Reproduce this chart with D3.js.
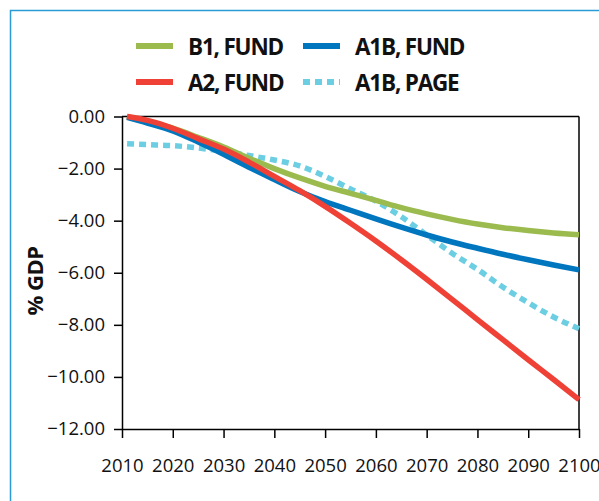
<!DOCTYPE html>
<html>
<head>
<meta charset="utf-8">
<script src="https://cdn.jsdelivr.net/npm/d3@7"></script>
<style>
  html, body { margin: 0; padding: 0; background: #fff; }
  svg { display: block; }
</style>
</head>
<body>
<svg id="chart" width="599" height="501"></svg>
<script>
// ---- data ----
const years = [2011, 2015, 2020, 2025, 2030, 2035, 2040, 2045, 2050, 2055, 2060, 2065, 2070, 2075, 2080, 2085, 2090, 2095, 2100];
const b1Fund  = [0.00, -0.20, -0.45, -0.80, -1.17, -1.60, -2.00, -2.36, -2.68, -2.95, -3.22, -3.50, -3.74, -3.95, -4.13, -4.27, -4.38, -4.47, -4.54];
const a2Fund  = [0.00, -0.15, -0.45, -0.85, -1.25, -1.75, -2.30, -2.85, -3.45, -4.10, -4.78, -5.50, -6.25, -7.02, -7.80, -8.57, -9.34, -10.10, -10.87];
const a1bFund = [-0.03, -0.25, -0.55, -0.98, -1.45, -1.95, -2.42, -2.88, -3.27, -3.60, -3.93, -4.25, -4.55, -4.82, -5.06, -5.29, -5.50, -5.70, -5.89];
const a1bPage = [-1.05, -1.08, -1.12, -1.21, -1.34, -1.50, -1.67, -1.90, -2.30, -2.78, -3.25, -3.85, -4.55, -5.25, -5.87, -6.55, -7.15, -7.70, -8.15];
const xTicks = [2010, 2020, 2030, 2040, 2050, 2060, 2070, 2080, 2090, 2100];
const yTicks = [0, -2, -4, -6, -8, -10, -12];
const seriesNames = ["B1, FUND", "A2, FUND", "A1B, FUND", "A1B, PAGE"];

const series = [
  { name: seriesNames[0], values: b1Fund,  color: "#9bbb4f", dash: null },
  { name: seriesNames[1], values: a2Fund,  color: "#ef4136", dash: null },
  { name: seriesNames[2], values: a1bFund, color: "#0076bf", dash: null },
  { name: seriesNames[3], values: a1bPage, color: "#6ccee2", dash: "7,5" }
];
// drawing order (bottom to top)
const drawOrder = [3, 0, 2, 1];

const svg = d3.select("#chart");

// outer light-blue frame
svg.append("rect")
  .attr("x", 10.5).attr("y", 10.5)
  .attr("width", 640).attr("height", 540)
  .attr("fill", "none")
  .attr("stroke", "#2a9bd7")
  .attr("stroke-width", 1.5);

const pLeft = 122, pRight = 579, pTop = 116.5, pBottom = 429;
const x = d3.scaleLinear().domain([2010, 2100]).range([pLeft, pRight]);
const y = d3.scaleLinear().domain([-12, 0]).range([pBottom, pTop]);

const fontTick = "'Open Sans', 'DejaVu Sans', sans-serif";

// plot box top/right lines
svg.append("line").attr("x1", pLeft).attr("x2", pRight).attr("y1", pTop).attr("y2", pTop)
  .attr("stroke", "#000").attr("stroke-width", 1.5);
svg.append("line").attr("x1", pRight).attr("x2", pRight).attr("y1", pTop).attr("y2", pBottom)
  .attr("stroke", "#000").attr("stroke-width", 1.5);

// axes
const xAxis = d3.axisBottom(x).tickValues(xTicks).tickFormat(d3.format("d")).tickSizeInner(9).tickSizeOuter(0).tickPadding(21);
const yAxis = d3.axisLeft(y).tickValues(yTicks).tickFormat(d => d3.format(".2f")(d).replace("-", "\u2212")).tickSizeInner(8).tickSizeOuter(0).tickPadding(9);

const gx = svg.append("g").attr("transform", `translate(0,${pBottom})`).call(xAxis);
const gy = svg.append("g").attr("transform", `translate(${pLeft},0)`).call(yAxis);
[gx, gy].forEach(g => {
  g.selectAll("path.domain").attr("stroke", "#000").attr("stroke-width", 1.5);
  g.selectAll(".tick line").attr("stroke", "#000").attr("stroke-width", 1.5);
  g.selectAll(".tick text").attr("fill", "#111").style("font-family", fontTick).style("font-size", "18.5px");
});

// y label
svg.append("text")
  .attr("transform", `translate(43,${281}) rotate(-90)`)
  .attr("text-anchor", "middle")
  .style("font-family", fontTick)
  .style("font-weight", "bold")
  .style("font-size", "22px")
  .style("letter-spacing", "-0.5px")
  .attr("fill", "#111")
  .text("% GDP");

// lines
const line = d3.line()
  .x((d, i) => x(years[i]))
  .y(d => y(d))
  .curve(d3.curveMonotoneX);

drawOrder.forEach(k => {
  const s = series[k];
  svg.append("path")
    .datum(s.values)
    .attr("d", line)
    .attr("fill", "none")
    .attr("stroke", s.color)
    .attr("stroke-width", 5.5)
    .attr("stroke-dasharray", s.dash);
});

// legend
const legendPos = [
  { lx: 136, ly: 46 },
  { lx: 136, ly: 82 },
  { lx: 303, ly: 46 },
  { lx: 303, ly: 82 }
];
series.forEach((s, i) => {
  const p = legendPos[i];
  svg.append("line")
    .attr("x1", p.lx).attr("x2", p.lx + 37)
    .attr("y1", p.ly).attr("y2", p.ly)
    .attr("stroke", s.color)
    .attr("stroke-width", 6)
    .attr("stroke-dasharray", s.dash);
  svg.append("text")
    .attr("x", p.lx + 52)
    .attr("y", p.ly + 8.5)
    .style("font-family", fontTick)
    .style("font-weight", "bold")
    .style("font-size", "22.5px")
    .style("letter-spacing", "-1.2px")
    .attr("fill", "#111")
    .text(s.name);
});
</script>
</body>
</html>
